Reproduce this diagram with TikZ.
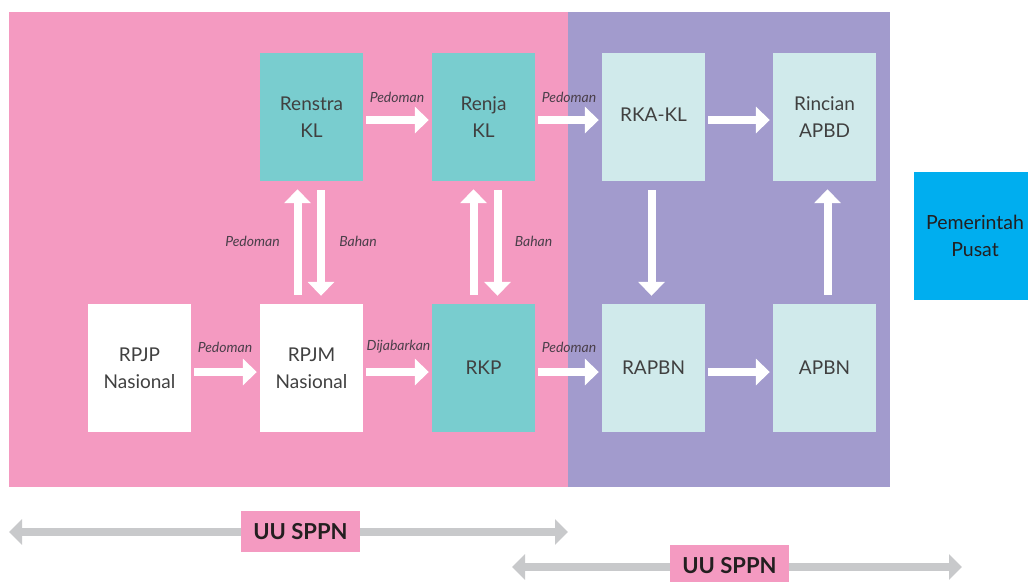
\documentclass[tikz,border=0pt]{standalone}
\usepackage{fontspec}
\setmainfont{Lato}
\usetikzlibrary{arrows.meta}
\definecolor{pinkbg}{HTML}{F49AC1}
\definecolor{purplebg}{HTML}{A29BCD}
\definecolor{tealbox}{HTML}{79CDCF}
\definecolor{lightbox}{HTML}{D0EAEB}
\definecolor{bluebox}{HTML}{00AEEF}
\definecolor{grayarrow}{HTML}{C8C9CB}
\definecolor{boxtext}{HTML}{404040}
\definecolor{labeltext}{HTML}{4A3F4A}
\definecolor{darktext}{HTML}{231F20}
\begin{document}
\begin{tikzpicture}[x=1pt,y=-1pt,
  box/.style={minimum width=103pt,minimum height=128pt,inner sep=0pt,align=center,
    font=\fontsize{19}{27}\selectfont,text=boxtext},
  whitebox/.style={box,fill=white},
  tealnode/.style={box,fill=tealbox},
  lightnode/.style={box,fill=lightbox},
  blockarrow/.style={draw=white,line width=8pt,-{Triangle[width=26pt,length=14pt]},
    shorten <=3pt,shorten >=3pt},
  varrow/.style={draw=white,line width=8pt,-{Triangle[width=26pt,length=14pt]},
    shorten <=9pt,shorten >=8pt},
  lbl/.style={font=\itshape\fontsize{14}{14}\selectfont,text=labeltext,inner sep=0pt},
  uuarrow/.style={draw=grayarrow,line width=8pt,
    {Triangle[width=25pt,length=13pt]}-{Triangle[width=25pt,length=13pt]}},
  uubox/.style={fill=pinkbg,minimum width=119pt,minimum height=41pt,inner sep=0pt,
    font=\bfseries\fontsize{22}{22}\selectfont,text=darktext}
]
\useasboundingbox (0,0) rectangle (1028,581);
\clip (0,0) rectangle (1028,581);
\fill[pinkbg] (9,12) rectangle (568,487);
\fill[purplebg] (568,12) rectangle (890,487);

% boxes
\node[tealnode] (renstra) at (311.5,117) {Renstra\\KL};
\node[tealnode] (renja) at (483.5,117) {Renja\\KL};
\node[lightnode] (rka) at (653.5,117) {\raisebox{5pt}{RKA-KL}};
\node[lightnode] (rincian) at (824.5,117) {Rincian\\APBD};
\node[whitebox] (rpjp) at (139.5,368) {RPJP\\Nasional};
\node[whitebox] (rpjm) at (311.5,368) {RPJM\\Nasional};
\node[tealnode] (rkp) at (483.5,368) {RKP};
\node[lightnode] (rapbn) at (653.5,368) {RAPBN};
\node[lightnode] (apbn) at (824.5,368) {APBN};
\node[box,fill=bluebox,minimum width=122pt,text=darktext,
  font=\fontsize{19.5}{27}\selectfont] (pusat) at (975,236) {Pemerintah\\Pusat};

% horizontal arrows, top row
\draw[blockarrow] ([yshift=-3pt]renstra.east) -- ([yshift=-3pt]renja.west);
\draw[blockarrow] ([yshift=-3pt]renja.east) -- ([yshift=-3pt]rka.west);
\draw[blockarrow] ([yshift=-3pt]rka.east) -- ([yshift=-3pt]rincian.west);
% horizontal arrows, bottom row
\draw[blockarrow] ([yshift=-4pt]rpjp.east) -- ([yshift=-4pt]rpjm.west);
\draw[blockarrow] ([yshift=-4pt]rpjm.east) -- ([yshift=-4pt]rkp.west);
\draw[blockarrow] ([yshift=-4pt]rkp.east) -- ([yshift=-4pt]rapbn.west);
\draw[blockarrow] ([yshift=-4pt]rapbn.east) -- ([yshift=-4pt]apbn.west);
% vertical arrows
\draw[varrow] ([xshift=-14pt]rpjm.north) -- ([xshift=-14pt]renstra.south);
\draw[varrow] ([xshift=9.5pt]renstra.south) -- ([xshift=9.5pt]rpjm.north);
\draw[varrow] ([xshift=-10pt]rkp.north) -- ([xshift=-10pt]renja.south);
\draw[varrow] ([xshift=14pt]renja.south) -- ([xshift=14pt]rkp.north);
\draw[varrow] ([xshift=-2pt]rka.south) -- ([xshift=-2pt]rapbn.north);
\draw[varrow] ([xshift=3pt]apbn.north) -- ([xshift=3pt]rincian.south);

% labels
\node[lbl] (l1) at (397,97) {Pedoman};
\node[lbl] (l2) at (569,97) {Pedoman};
\node[lbl] (l3) at (225,347) {Pedoman};
\node[lbl] (l4) at (398.5,347) {Dijabarkan};
\node[lbl] (l5) at (569,347) {Pedoman};
\node[lbl] (l6) at (252.5,241) {Pedoman};
\node[lbl] (l7) at (358,241) {Bahan};
\node[lbl] (l8) at (533.5,241) {Bahan};

% UU SPPN arrows
\coordinate (ua) at (9,532);
\coordinate (ub) at (568,532);
\draw[uuarrow] (ua) -- (ub);
\node[uubox] (uu1) at (300.5,531.5) {UU SPPN};
\coordinate (uc) at (512,567);
\coordinate (ud) at (962,567);
\draw[uuarrow] (uc) -- (ud);
\node[uubox] (uu2) at (729.5,565.5) {UU SPPN};
\end{tikzpicture}
\end{document}
